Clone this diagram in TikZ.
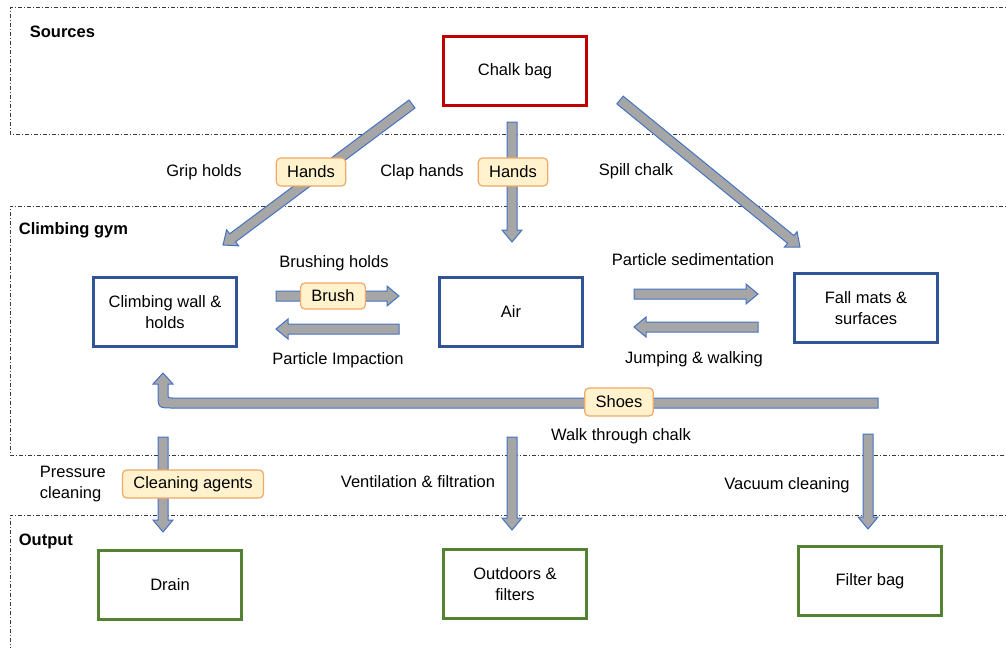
\documentclass[tikz,border=0pt]{standalone}
\usepackage{fontspec}
\setmainfont{Liberation Sans}
\usepackage{tikz}
\usetikzlibrary{calc}

\definecolor{srcred}{HTML}{C00000}
\definecolor{gymblue}{HTML}{2F5597}
\definecolor{outgreen}{HTML}{548235}
\definecolor{arrgray}{HTML}{A6A6A6}
\definecolor{arrblue}{HTML}{4472C4}
\definecolor{tagfill}{HTML}{FFF2CC}
\definecolor{tagedge}{HTML}{F0A868}
\definecolor{regiongray}{HTML}{3A3A3A}

\tikzset{
  box/.style={draw, line width=1.8pt, minimum width=85.8pt, minimum height=41.4pt, align=center, fill=white},
  srcbox/.style={box, draw=srcred},
  gymbox/.style={box, draw=gymblue},
  outbox/.style={box, draw=outgreen},
  tag/.style={draw=tagedge, fill=tagfill, rounded corners=2.5pt, line width=0.7pt, minimum height=16.8pt, inner xsep=6.5pt},
  region/.style={draw=regiongray, line width=0.6pt, dash pattern=on 2.4pt off 1.2pt on 0.6pt off 1.2pt},
  fatarr/.style={draw=arrblue, fill=arrgray, line width=0.6pt, line join=miter},
  title/.style={anchor=west, font=\fontsize{9.9}{12}\selectfont\bfseries}
}

% block arrow from #1 to #2
\newcommand{\fatarrow}[2]{%
  \coordinate (hb) at ($(#2)!7.2pt!(#1)$);
  \draw[fatarr] ($(#1)!3pt!90:(#2)$) -- ($(hb)!3pt!90:(#2)$) -- ($(hb)!6pt!90:(#2)$) -- (#2)
    -- ($(hb)!6pt!-90:(#2)$) -- ($(hb)!3pt!-90:(#2)$) -- ($(#1)!3pt!-90:(#2)$) -- cycle;}

\begin{document}
\begin{tikzpicture}[x=0.6pt, y=-0.6pt, font=\fontsize{9.9}{12.5}\selectfont]
\useasboundingbox (0,0) rectangle (1006,648);
\clip (0,0) rectangle (1006,648);

% regions
\draw[region] (1030,8) -- (10,8) -- (10,134) -- (1030,134);
\draw[region] (1030,206) -- (10,206) -- (10,455) -- (1030,455);
\draw[region] (1030,515) -- (10,515) -- (10,660);
\node[title] (srcT) at (24,32) {Sources};
\node[title] (gymT) at (13,230) {Climbing gym};
\node[title] (outT) at (13,541) {Output};

% compartments
\node[srcbox] (chalk) at (515,71) {Chalk bag};
\node[gymbox] (wall) at (165,312) {Climbing wall \&\\holds};
\node[gymbox] (air) at (511,312) {Air};
\node[gymbox] (mats) at (866,308) {Fall mats \&\\surfaces};
\node[outbox] (drain) at (170,585) {Drain};
\node[outbox] (outdoors) at (515,584) {Outdoors \&\\filters};
\node[outbox] (filter) at (870,581) {Filter bag};

% arrow ends
\coordinate (gripS) at (412,104);  \coordinate (gripE) at (223,245);
\coordinate (clapS) at (512,122);  \coordinate (clapE) at (512,242);
\coordinate (spillS) at (620,100); \coordinate (spillE) at (800,247);
\coordinate (brushS) at (276,296); \coordinate (brushE) at (399,296);
\coordinate (impS) at (399,329);   \coordinate (impE) at (276,329);
\coordinate (sedS) at (634,294);   \coordinate (sedE) at (758,294);
\coordinate (jumpS) at (758,327);  \coordinate (jumpE) at (634,327);
\coordinate (drainS) at (163,437); \coordinate (drainE) at (163,532);
\coordinate (ventS) at (512,437);  \coordinate (ventE) at (512,530);
\coordinate (vacS) at (868,434);   \coordinate (vacE) at (868,529);
\coordinate (shoesS) at (878,403); \coordinate (shoesE) at (163,373);

\foreach \a in {grip,clap,spill,brush,imp,sed,jump,drain,vent,vac}
  {\fatarrow{\a S}{\a E}}
\draw[fatarr] ($(shoesS)+(0,-5)$) -- (173,398) .. controls (168,398) .. (168,393) -- (168,384)
  -- (173,384) -- (shoesE) -- (153,384) -- (158,384) -- (158,393) .. controls (158,408) .. (173,408)
  -- ($(shoesS)+(0,5)$) -- cycle;

% labels
\node (gripT) at (204,172) {Grip holds};
\node (clapT) at (422,172) {Clap hands};
\node (spillT) at (636,171) {Spill chalk};
\node[tag] (hands1) at (311,172) {Hands};
\node[tag] (hands2) at (513,172) {Hands};
\node (brushT) at (334,263) {Brushing holds};
\node[tag, minimum height=15.6pt] (brush) at (333,296) {Brush};
\node (impT) at (338,360) {Particle Impaction};
\node (sedT) at (693,260) {Particle sedimentation};
\node (jumpT) at (694,359) {Jumping \& walking};
\node[tag] (shoes) at (619,402) {Shoes};
\node (walkT) at (621,436) {Walk through chalk};
\node[align=left, anchor=west] (pressT) at (34,484) {Pressure\\cleaning};
\node[tag] (agents) at (193,484) {Cleaning agents};
\node (ventT) at (418,482) {Ventilation \& filtration};
\node (vacT) at (787,485) {Vacuum cleaning};
\end{tikzpicture}
\end{document}
